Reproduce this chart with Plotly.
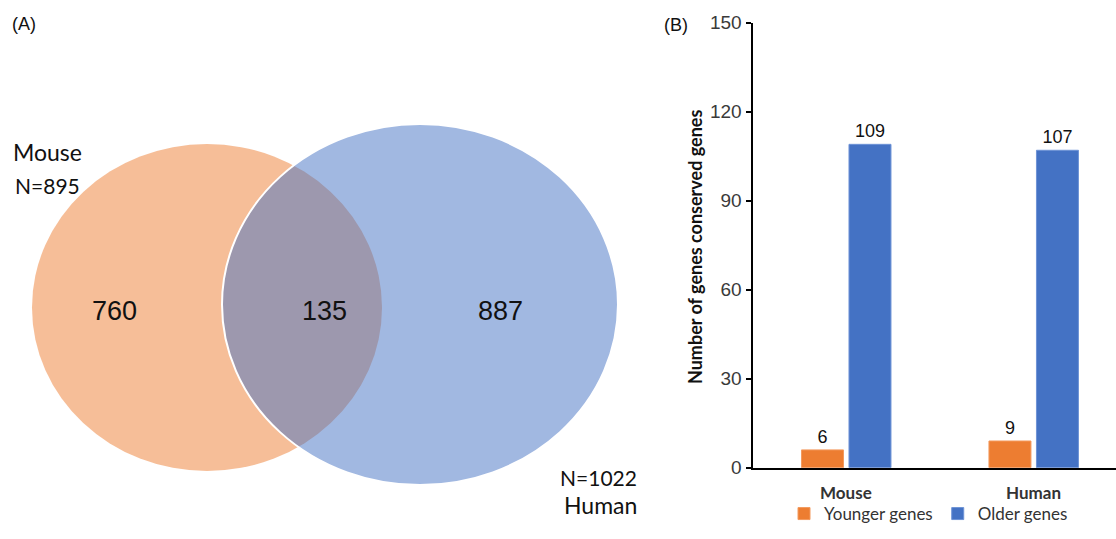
import plotly.graph_objects as go

# ---- Data ----
venn_sets = ["Mouse", "Human"]
venn_only = [760, 887]        # mouse-only, human-only
venn_shared = 135

bar_categories = ["Mouse", "Human"]
younger_genes = [6, 9]
older_genes = [109, 107]
y_ticks = [0, 30, 60, 90, 120, 150]

W, H = 1116, 539
ORANGE = "#ED7D31"
BLUE = "#4472C4"

mouse_total = venn_only[0] + venn_shared
human_total = venn_only[1] + venn_shared

fig = go.Figure()

# ---- Panel B: bars ----
fig.add_trace(go.Bar(
    x=bar_categories, y=younger_genes, name="Younger genes",
    marker=dict(color=ORANGE, line=dict(color="#F39A5E", width=1)),
    text=younger_genes, textposition="outside",
    textfont=dict(family="Liberation Sans, Arial", size=18, color="#111111"),
    cliponaxis=False, xaxis="x", yaxis="y",
))
fig.add_trace(go.Bar(
    x=bar_categories, y=older_genes, name="Older genes",
    marker=dict(color=BLUE, line=dict(color="#6E93D6", width=1)),
    text=older_genes, textposition="outside",
    textfont=dict(family="Liberation Sans, Arial", size=18, color="#111111"),
    cliponaxis=False, xaxis="x", yaxis="y",
))

# ---- Panel A: Venn (pixel-space helper axes) ----
fig.add_trace(go.Scatter(x=[10, W - 10], y=[10, H - 10], mode="markers",
                         marker=dict(opacity=0, size=1), showlegend=False,
                         hoverinfo="skip", xaxis="x2", yaxis="y2"))

# ellipse geometry (layout)
m_cx, m_cy, m_rx, m_ry = 207, 307.5, 175, 163.5
h_cx, h_cy, h_rx, h_ry = 420, 304.5, 198, 180.5

shapes = [
    dict(type="circle", xref="x2", yref="y2",
         x0=m_cx - m_rx, x1=m_cx + m_rx, y0=m_cy - m_ry, y1=m_cy + m_ry,
         fillcolor=ORANGE, opacity=0.5, line=dict(width=0), layer="above"),
    dict(type="circle", xref="x2", yref="y2",
         x0=h_cx - h_rx, x1=h_cx + h_rx, y0=h_cy - h_ry, y1=h_cy + h_ry,
         fillcolor="rgba(68,114,196,0.5)", line=dict(width=2, color="white"),
         layer="above"),
]

venn_font = "Lato, Open Sans, sans-serif"
annotations = [
    dict(text="(A)", x=10, y=24, xref="x2", yref="y2", showarrow=False,
         xanchor="left", yanchor="middle",
         font=dict(family="Liberation Sans, Arial", size=18, color="#111111")),
    dict(text="(B)", x=662, y=25, xref="x2", yref="y2", showarrow=False,
         xanchor="left", yanchor="middle",
         font=dict(family="Liberation Sans, Arial", size=18, color="#111111")),
    dict(text=venn_sets[0], x=11, y=152, xref="x2", yref="y2", showarrow=False,
         xanchor="left", yanchor="middle",
         font=dict(family=venn_font, size=23, color="#111111")),
    dict(text=f"N={mouse_total}", x=13, y=185, xref="x2", yref="y2", showarrow=False,
         xanchor="left", yanchor="middle",
         font=dict(family=venn_font, size=21, color="#111111")),
    dict(text=f"N={human_total}", x=639, y=477, xref="x2", yref="y2", showarrow=False,
         xanchor="right", yanchor="middle",
         font=dict(family=venn_font, size=21, color="#111111")),
    dict(text=venn_sets[1], x=639, y=505, xref="x2", yref="y2", showarrow=False,
         xanchor="right", yanchor="middle",
         font=dict(family=venn_font, size=23, color="#111111")),
    dict(text=str(venn_only[0]), x=114.5, y=311, xref="x2", yref="y2", showarrow=False,
         xanchor="center", yanchor="middle",
         font=dict(family="Liberation Sans, Arial", size=27, color="#111111")),
    dict(text=str(venn_shared), x=324.5, y=311, xref="x2", yref="y2", showarrow=False,
         xanchor="center", yanchor="middle",
         font=dict(family="Liberation Sans, Arial", size=27, color="#111111")),
    dict(text=str(venn_only[1]), x=500, y=311, xref="x2", yref="y2", showarrow=False,
         xanchor="center", yanchor="middle",
         font=dict(family="Liberation Sans, Arial", size=27, color="#111111")),
    # y-axis title of panel B
    dict(text="<b>Number of genes conserved genes</b>", x=695, y=247,
         xref="x2", yref="y2", showarrow=False, textangle=-90,
         xanchor="center", yanchor="middle",
         font=dict(family=venn_font, size=18, color="#111111")),
]
for cat in bar_categories:
    annotations.append(dict(
        text=f"<b>{cat}</b>", x=cat, y=492, xref="x", yref="y2", showarrow=False,
        xanchor="center", yanchor="middle",
        font=dict(family=venn_font, size=17, color="#333333")))

fig.update_layout(
    width=W, height=H,
    margin=dict(l=0, r=0, t=0, b=0, pad=0, autoexpand=False),
    paper_bgcolor="white", plot_bgcolor="rgba(0,0,0,0)",
    barmode="group", bargap=0.4933, bargroupgap=0.116,
    xaxis=dict(domain=[752.5 / W, 1], range=[-0.5, 1.439],
               showline=True, linecolor="black", linewidth=2,
               showticklabels=False, ticks="", showgrid=False, zeroline=False,
               automargin=False, fixedrange=True),
    yaxis=dict(domain=[(H - 467.7) / H, (H - 22.7) / H], range=[0, 150],
               tickvals=y_ticks, ticks="outside", ticklen=5, tickwidth=1.5,
               tickcolor="black", showline=True, linecolor="black", linewidth=2,
               showgrid=False, zeroline=False, automargin=False,
               tickfont=dict(family="Liberation Sans, Arial", size=19, color="#3a3a3a"),
               fixedrange=True),
    xaxis2=dict(domain=[0, 1], range=[0, W], visible=False, anchor="y2",
                automargin=False, fixedrange=True),
    yaxis2=dict(domain=[0, 1], range=[H, 0], visible=False, anchor="x2",
                automargin=False, fixedrange=True),
    shapes=shapes,
    annotations=annotations,
    showlegend=True,
    legend=dict(orientation="h", x=784 / W, y=(H - 514) / H,
                xanchor="left", yanchor="middle",
                font=dict(family=venn_font, size=17, color="#333333"),
                bgcolor="rgba(0,0,0,0)", itemwidth=30, tracegroupgap=0),
)

fig.write_html(
    "out.html",
    config={"displayModeBar": False},
    post_script="document.body.style.margin='0px';document.body.style.overflow='hidden';",
)
